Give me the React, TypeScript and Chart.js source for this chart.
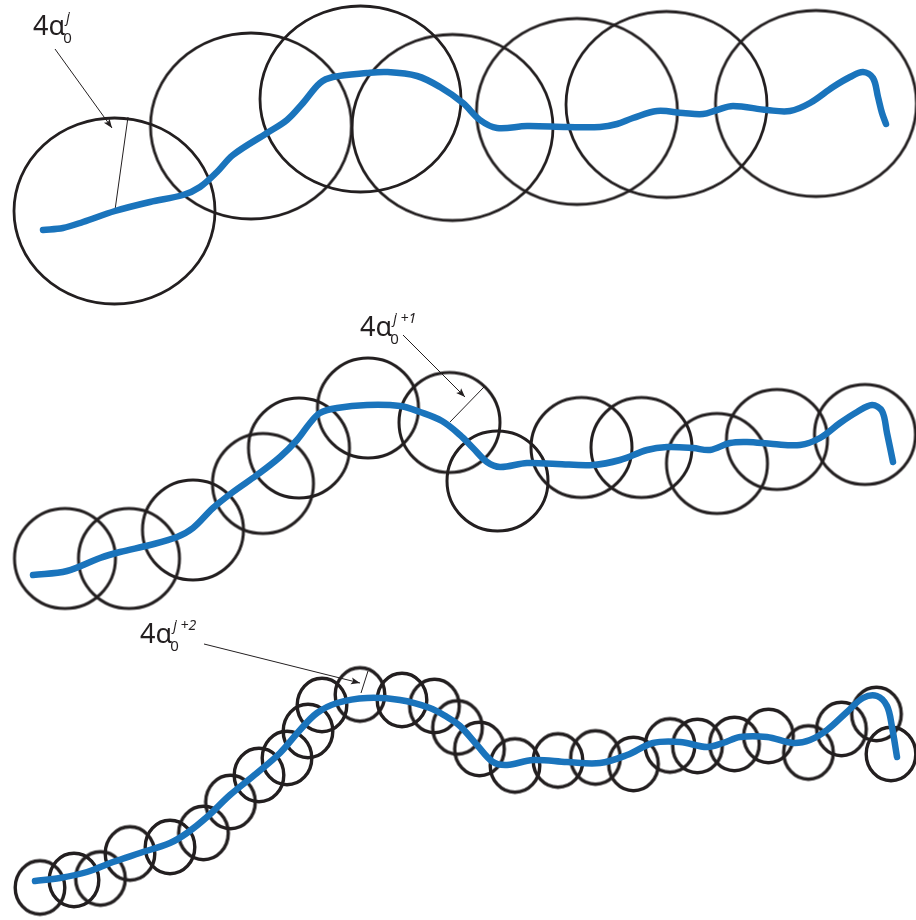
import React, { useEffect, useRef } from "react";
import { Chart, registerables } from "chart.js";

Chart.register(...registerables);

// Blue paths (x, y in figure units; y grows downward)
const curve1: number[][] = [
  [43, 230], [63, 228], [83, 222], [115, 211], [150, 202], [183, 195], [200, 187], [217, 172], [233, 155],
  [267, 133], [287, 120], [303, 103], [320, 83], [333, 77], [367, 73], [387, 72], [417, 76], [440, 87],
  [463, 103], [480, 120], [497, 128], [527, 126], [567, 127], [600, 127], [617, 124], [633, 118], [657, 111],
  [683, 113], [703, 114], [717, 110], [733, 106], [767, 110], [790, 111], [810, 103], [833, 87], [850, 77],
  [863, 72], [873, 78], [878, 97], [882, 113], [886, 124],
];
const curve2: number[][] = [
  [33, 575], [67, 571], [100, 558], [120, 552], [150, 545], [177, 537], [193, 528], [213, 508], [233, 492],
  [257, 475], [280, 457], [297, 440], [310, 423], [320, 413], [337, 408], [367, 405], [400, 406], [420, 412],
  [442, 421], [460, 435], [473, 448], [487, 462], [500, 467], [527, 463], [557, 464], [593, 465], [620, 460],
  [647, 450], [667, 447], [693, 448], [710, 450], [730, 443], [747, 442], [773, 444], [800, 445], [820, 438],
  [840, 423], [857, 412], [872, 405], [882, 411], [887, 433], [893, 462],
];
const curve3: number[][] = [
  [35, 881], [60, 878], [87, 872], [113, 862], [140, 853], [170, 843], [187, 833], [207, 817], [230, 795],
  [257, 773], [280, 753], [300, 730], [317, 713], [337, 703], [367, 698], [400, 700], [430, 708], [447, 717],
  [460, 726], [477, 745], [493, 762], [507, 765], [533, 760], [567, 762], [600, 763], [627, 755], [653, 743],
  [680, 742], [707, 747], [723, 743], [740, 737], [767, 737], [793, 743], [810, 740], [827, 730], [847, 712],
  [863, 698], [877, 696], [887, 706], [892, 727], [897, 757],
];

// Circle centres for each level
const circles1: number[][] = [
  [114.5, 211], [251, 126], [360.5, 99], [452.5, 127.5], [577, 111.5], [666.5, 104.5], [816, 103.5],
];
const circles2: number[][] = [
  [65, 558.5], [129, 558.5], [193, 530], [263, 483.5], [299, 448], [368, 408], [449.5, 422.5],
  [497.5, 481], [581.5, 447.5], [641.5, 447.5], [717, 463.5], [777, 439.5], [865, 434.5],
];
const circles3: number[][] = [
  [40, 887.5], [74, 880], [100.5, 878.5], [130, 853.5], [170, 847], [203.5, 833], [230.5, 802],
  [259, 775], [287, 758], [308, 731], [322, 705], [360, 694.5], [402, 700], [434.5, 706],
  [457.5, 727.5], [479.5, 749], [515, 765.5], [558, 760.5], [595.5, 757.5], [633.5, 764],
  [670, 745.5], [697.5, 746], [734.5, 744], [768.5, 736], [808.5, 752.5], [841.5, 729],
  [876.5, 714], [891, 754],
];

// Annotation arrows (from label to circle) and radius segments
const arrows: number[][][] = [
  [[55, 49], [112, 128]],
  [[403, 335], [465, 397]],
  [[204, 644], [360, 683]],
];
const radii: number[][][] = [
  [[115, 210], [128, 117]],
  [[450, 422], [484, 387]],
  [[361, 693], [368, 671]],
];

// Labels: 4α₀ with superscript
const labelAnchors: number[][] = [[33, 35], [360, 336], [140, 643]];
const labelSup: string[] = ["j", "j +1", "j +2"];

const BLUE = "#1a74bc";
const INK = "#231f20";

function makeEllipse(rx: number, ry: number, lw: number): HTMLCanvasElement {
  const c = document.createElement("canvas");
  const pad = Math.ceil(lw) + 2;
  c.width = Math.ceil(2 * rx + 2 * pad);
  c.height = Math.ceil(2 * ry + 2 * pad);
  const g = c.getContext("2d")!;
  g.strokeStyle = INK;
  g.lineWidth = lw;
  g.beginPath();
  g.ellipse(c.width / 2, c.height / 2, rx, ry, 0, 0, Math.PI * 2);
  g.stroke();
  return c;
}

const toXY = (arr: number[][]) => arr.map(([x, y]) => ({ x, y }));

const arrowHeadPlugin = {
  id: "arrowHeads",
  afterDatasetsDraw(chart: any) {
    const ctx = chart.ctx;
    chart.data.datasets.forEach((ds: any, i: number) => {
      if (!ds.isArrow) return;
      const meta = chart.getDatasetMeta(i);
      const p0 = meta.data[0];
      const p1 = meta.data[1];
      const ang = Math.atan2(p1.y - p0.y, p1.x - p0.x);
      const len = 9;
      const hw = 3.5;
      ctx.save();
      ctx.translate(p1.x, p1.y);
      ctx.rotate(ang);
      ctx.fillStyle = INK;
      ctx.beginPath();
      ctx.moveTo(0, 0);
      ctx.lineTo(-len, -hw);
      ctx.lineTo(-len + 2, 0);
      ctx.lineTo(-len, hw);
      ctx.closePath();
      ctx.fill();
      ctx.restore();
    });
  },
};

const labelPlugin = {
  id: "alphaLabels",
  afterDraw(chart: any) {
    const ctx = chart.ctx;
    const xs = chart.scales.x;
    const ys = chart.scales.y;
    ctx.save();
    ctx.fillStyle = INK;
    ctx.textBaseline = "alphabetic";
    ctx.textAlign = "left";
    labelAnchors.forEach(([lx, ly], i) => {
      const x = xs.getPixelForValue(lx);
      const y = ys.getPixelForValue(ly);
      ctx.font = '27px "Noto Sans", "DejaVu Sans", sans-serif';
      ctx.fillText("4α", x, y);
      const w = ctx.measureText("4α").width;
      ctx.font = '15px "Noto Sans", "DejaVu Sans", sans-serif';
      ctx.fillText("0", x + w - 2, y + 8);
      ctx.font = 'italic 14px "Noto Sans", "DejaVu Sans", sans-serif';
      ctx.fillText(labelSup[i], x + w + 1, y - 13);
    });
    ctx.restore();
  },
};

export default function App() {
  const ref = useRef<HTMLCanvasElement | null>(null);

  useEffect(() => {
    if (!ref.current) return;
    const e1 = makeEllipse(100.5, 93, 2.8);
    const e2 = makeEllipse(50.5, 50, 3);
    const e3 = makeEllipse(24.8, 26.8, 3.4);

    const curveDs = (arr: number[][]) => ({
      type: "line" as const,
      data: toXY(arr),
      borderColor: BLUE,
      borderWidth: 6.5,
      borderCapStyle: "round" as const,
      borderJoinStyle: "round" as const,
      pointRadius: 0,
      showLine: true,
      fill: false,
      tension: 0.35,
      clip: false as any,
    });
    const circleDs = (arr: number[][], img: HTMLCanvasElement) => ({
      type: "scatter" as const,
      data: toXY(arr),
      pointStyle: img,
      pointRadius: 5,
      showLine: false,
      clip: false as any,
    });
    const segDs = (seg: number[][], isArrow: boolean) => ({
      type: "line" as const,
      data: toXY(seg),
      borderColor: INK,
      borderWidth: 1,
      pointRadius: 0,
      showLine: true,
      fill: false,
      tension: 0,
      isArrow,
      clip: false as any,
    });

    const chart = new Chart(ref.current, {
      type: "scatter",
      data: {
        datasets: [
          curveDs(curve1),
          curveDs(curve2),
          curveDs(curve3),
          circleDs(circles1, e1),
          circleDs(circles2, e2),
          circleDs(circles3, e3),
          ...radii.map((s) => segDs(s, false)),
          ...arrows.map((s) => segDs(s, true)),
        ] as any,
      },
      options: {
        animation: false,
        responsive: true,
        maintainAspectRatio: false,
        events: [],
        layout: { padding: 0, autoPadding: false },
        plugins: { legend: { display: false }, tooltip: { enabled: false } },
        scales: {
          x: { type: "linear", min: 0, max: 916, display: false },
          y: { type: "linear", min: 0, max: 920, reverse: true, display: false },
        },
      },
      plugins: [arrowHeadPlugin, labelPlugin],
    });
    return () => chart.destroy();
  }, []);

  return (
    <div style={{ position: "fixed", left: 0, top: 0, width: 916, height: 920, background: "#fff" }}>
      <canvas ref={ref} />
    </div>
  );
}
